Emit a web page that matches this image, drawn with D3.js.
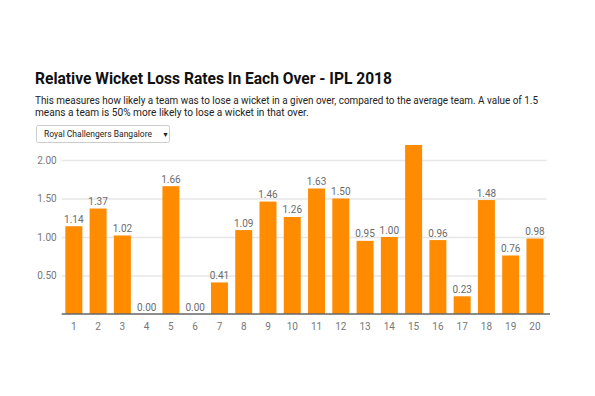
<!DOCTYPE html>
<html><head><meta charset="utf-8">
<script src="https://cdn.jsdelivr.net/npm/d3@7"></script>
<style>
html,body{margin:0;padding:0;background:#fff;}
svg{display:block;font-family:Roboto,"Noto Sans",Arial,sans-serif;}
</style></head>
<body>
<svg id="c" width="595" height="396"></svg>
<script>
const overs = ["1","2","3","4","5","6","7","8","9","10","11","12","13","14","15","16","17","18","19","20"];
const rates = [1.14,1.37,1.02,0.00,1.66,0.00,0.41,1.09,1.46,1.26,1.63,1.50,0.95,1.00,2.20,0.96,0.23,1.48,0.76,0.98];
const yTicks = [0.5,1.0,1.5,2.0];
const titleText = "Relative Wicket Loss Rates In Each Over - IPL 2018";
const subtitleLines = ["This measures how likely a team was to lose a wicket in a given over, compared to the average team. A value of 1.5",
                       "means a team is 50% more likely to lose a wicket in that over."];
const teamName = "Royal Challengers Bangalore";

const data = overs.map((o,i)=>({over:o, value:rates[i]}));

const svg = d3.select("#c");
const plot = {left:61.7, right:547.1, top:145, bottom:314};

// Title & subtitle
svg.append("text").attr("x",35).attr("y",83.5).text(titleText)
  .attr("font-size",17).attr("font-weight","bold").attr("fill","#111")
  .attr("textLength",357).attr("lengthAdjust","spacingAndGlyphs");
subtitleLines.forEach((t,i)=>{
  svg.append("text").attr("x",35).attr("y",104+i*12).text(t)
    .attr("font-size",11).attr("fill","#222")
    .attr("textLength", i===0?503:(503*t.length/subtitleLines[0].length))
    .attr("lengthAdjust","spacingAndGlyphs");
});

// Dropdown
svg.append("rect").attr("x",36.5).attr("y",125.5).attr("width",133).attr("height",17).attr("rx",2)
  .attr("fill","#fff").attr("stroke","#ccc");
svg.append("text").attr("x",44).attr("y",137).text(teamName).attr("font-size",9).attr("fill","#222")
  .attr("textLength",108).attr("lengthAdjust","spacingAndGlyphs");
svg.append("text").attr("x",162).attr("y",137).text("▼").attr("font-size",7).attr("fill","#222");

// Scales
const x = d3.scaleBand().domain(overs).range([plot.left, plot.right]).paddingInner(0.3).paddingOuter(0.15);
const y = d3.scaleLinear().domain([0,2]).range([plot.bottom,160]);

// Gridlines
const yAxis = d3.axisLeft(y).tickValues(yTicks).tickFormat(d3.format(".2f")).tickSize(-(546.5-61.7)).tickPadding(5);
const ga = svg.append("g").attr("transform",`translate(61.7,0)`).call(yAxis);
ga.select(".domain").remove();
ga.selectAll(".tick line").attr("stroke","#e6e6e6").attr("stroke-width",1.5);
ga.selectAll(".tick text").attr("fill","#777").attr("font-size",10).attr("font-family","Roboto,sans-serif");

// Clip
svg.append("clipPath").attr("id","clip").append("rect")
  .attr("x",plot.left-5).attr("y",plot.top).attr("width",plot.right-plot.left+10).attr("height",plot.bottom-plot.top);

// Bars
svg.append("g").attr("clip-path","url(#clip)").selectAll("rect").data(data).join("rect")
  .attr("x",d=>x(d.over)).attr("width",x.bandwidth())
  .attr("y",d=>y(d.value)).attr("height",d=>plot.bottom-y(d.value)).attr("fill","#FF8C00");

// Value labels (hidden when they would fall above the plot area)
svg.append("g").selectAll("text").data(data.filter(d=>y(d.value)-13>plot.top)).join("text")
  .attr("x",d=>x(d.over)+x.bandwidth()/2).attr("y",d=>y(d.value)-3.5)
  .attr("text-anchor","middle").attr("font-size",10).attr("fill","#6b6b6b")
  .text(d=>d.value.toFixed(2));

// Baseline
svg.append("line").attr("x1",61.7).attr("x2",550).attr("y1",plot.bottom).attr("y2",plot.bottom)
  .attr("stroke","#666").attr("stroke-width",1.5);

// X axis labels
const xAxis = d3.axisBottom(x).tickSize(0).tickPadding(9);
const gx = svg.append("g").attr("transform",`translate(0,${plot.bottom})`).call(xAxis);
gx.select(".domain").remove();
gx.selectAll(".tick text").attr("fill","#777").attr("font-size",10).attr("font-family","Roboto,sans-serif");
</script>
</body></html>
